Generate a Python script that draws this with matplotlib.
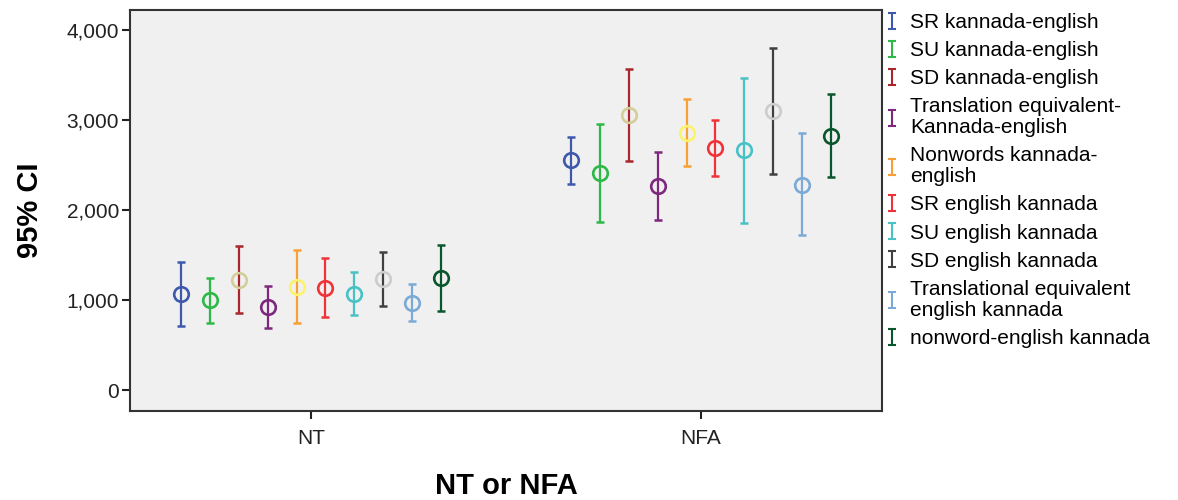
import numpy as np
import matplotlib
matplotlib.use('Agg')
import matplotlib.pyplot as plt
from matplotlib.path import Path
from matplotlib.lines import Line2D
from matplotlib.ticker import FuncFormatter

plt.rcParams['font.family'] = ['Liberation Sans', 'DejaVu Sans']

groups = ['NT', 'NFA']
series = ['SR kannada-english', 'SU kannada-english', 'SD kannada-english',
          'Translation equivalent-\nKannada-english', 'Nonwords kannada-\nenglish',
          'SR english kannada', 'SU english kannada', 'SD english kannada',
          'Translational equivalent\nenglish kannada', 'nonword-english kannada']

# mean, lower and upper 95% CI, per series (NT, NFA)
mean_nt = [1063, 1000, 1222, 926, 1148, 1137, 1063, 1230, 970, 1241]
low_nt = [716, 748, 852, 693, 748, 811, 833, 937, 770, 881]
high_nt = [1419, 1241, 1600, 1159, 1556, 1463, 1307, 1530, 1178, 1611]
mean_nfa = [2552, 2411, 3056, 2270, 2859, 2693, 2663, 3104, 2281, 2819]
low_nfa = [2289, 1870, 2544, 1889, 2493, 2381, 1859, 2400, 1719, 2363]
high_nfa = [2807, 2956, 3570, 2648, 3230, 3000, 3463, 3805, 2859, 3285]

bar_colors = ['#3E58AC', '#2EB848', '#A8262C', '#7C287D', '#F8A035',
              '#EF3338', '#48C2C5', '#404040', '#7AAAD5', '#0A562C']
dot_colors = ['#3E58AC', '#2EB848', '#D3CE97', '#7C287D', '#FBF46A',
              '#EF3338', '#48C2C5', '#CCCCCC', '#7AAAD5', '#0A562C']

fig = plt.figure(figsize=(11.78, 5.0), dpi=100)
ax = fig.add_axes([130 / 1178, 1 - 411 / 500, 752 / 1178, 401 / 500])
ax.set_facecolor('#F0F0F0')

step = 0.0739
for i in range(len(series)):
    xs = np.arange(len(groups)) + (i - 4.5) * step
    m = np.array([mean_nt[i], mean_nfa[i]])
    lo = np.array([low_nt[i], low_nfa[i]])
    hi = np.array([high_nt[i], high_nfa[i]])
    ax.errorbar(xs, m, yerr=[m - lo, hi - m], fmt='none', ecolor=bar_colors[i],
                elinewidth=1.6, capsize=3, capthick=1.8, zorder=2)
    ax.plot(xs, m, 'o', ms=10.5, mfc='none', mec=dot_colors[i], mew=1.9, zorder=3)

ax.set_xlim(-0.464, 1.464)
ax.set_ylim(-233, 4222)
ax.set_xticks(range(len(groups)))
ax.set_xticklabels(groups)
ax.set_yticks([0, 1000, 2000, 3000, 4000])
ax.yaxis.set_major_formatter(FuncFormatter(lambda v, p: '{:,.0f}'.format(v)))
ax.tick_params(axis='both', labelsize=15, colors='#222222', length=6, width=1.5)
ax.tick_params(axis='x', pad=7)
ax.tick_params(axis='y', pad=2)
for s in ax.spines.values():
    s.set_linewidth(1.5)
    s.set_color('#333333')

ax.set_xlabel('NT or NFA', fontsize=21, fontweight='bold', labelpad=17)
ax.set_ylabel('95% CI', fontsize=21, fontweight='bold', labelpad=16)

# legend symbol: vertical bar with caps
ibar = Path([(0, -1), (0, 1), (-0.45, 1), (0.45, 1), (-0.45, -1), (0.45, -1)],
            [Path.MOVETO, Path.LINETO, Path.MOVETO, Path.LINETO, Path.MOVETO, Path.LINETO])
handles = [Line2D([], [], ls='none', marker=ibar, ms=12, mec=c, mew=1.5) for c in bar_colors]
leg = fig.legend(handles, series, loc='upper left', bbox_to_anchor=(884 / 1178, 1 - 13 / 500),
                 frameon=False, fontsize=15, handlelength=0.8, handletextpad=0.45,
                 labelspacing=0.44, borderaxespad=0, borderpad=0)
for t in leg.get_texts():
    t.set_linespacing(1.12)

fig.savefig('out.png', dpi=100)
